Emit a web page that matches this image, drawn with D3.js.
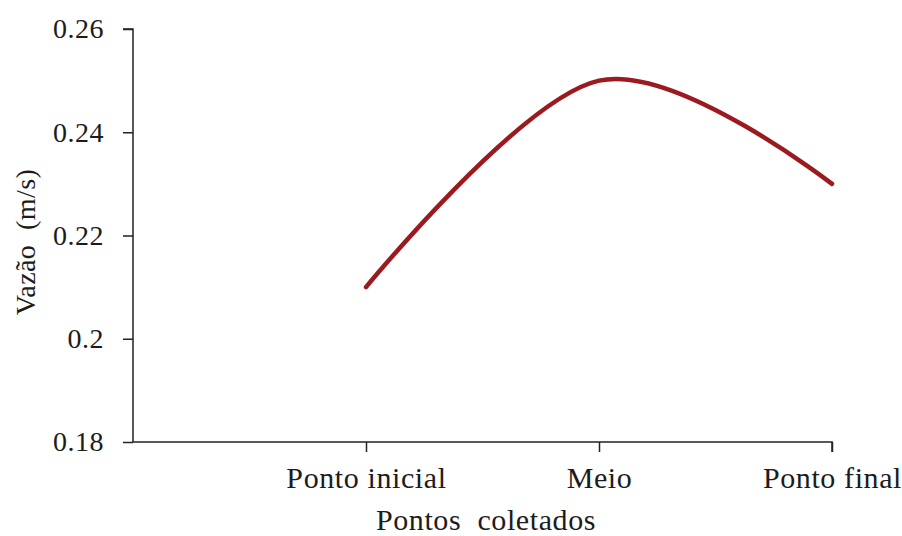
<!DOCTYPE html>
<html><head><meta charset="utf-8">
<script src="https://cdn.jsdelivr.net/npm/d3@7"></script>
<style>body{margin:0;background:#fff}svg{display:block}</style>
</head><body><svg id="c" width="902" height="536"></svg>
<script>
const categories = ["Ponto inicial", "Meio", "Ponto final"];
const values = [0.21, 0.25, 0.23];
const yTicks = [0.18, 0.2, 0.22, 0.24, 0.26];
const yTickLabels = ["0.18", "0.2", "0.22", "0.24", "0.26"];
const xTitle = "Pontos  coletados";
const yTitle = "Vazão  (m/s)";

const FONT = "'Liberation Serif','Times New Roman',serif";
const INK = "#1c1c1c";
const svg = d3.select("#c");
const x0 = 133, x1 = 832, yTop = 29, yBot = 442;
const xPos = d3.scalePoint().domain(["", ...categories]).range([x0, x1]);
const y = d3.scaleLinear().domain([0.18, 0.26]).range([yBot, yTop]);

const yAxis = d3.axisLeft(y).tickValues(yTicks).tickFormat((d,i)=>yTickLabels[i]).tickSize(10).tickPadding(19);
const gy = svg.append("g").attr("transform", `translate(${x0},0)`).call(yAxis);
gy.attr("font-family", null).attr("font-size", null);
gy.select(".domain").attr("stroke","#222").attr("stroke-width",1.5).attr("d",`M-10,${yTop}H0V${yBot}`);
gy.selectAll(".tick line").attr("stroke","#222").attr("stroke-width",1.5);
gy.selectAll(".tick text").style("font-family",FONT).style("font-size","28px").style("letter-spacing","0.5px").attr("fill",INK);

const xAxis = d3.axisBottom(xPos).tickValues(categories).tickSize(10);
const gx = svg.append("g").attr("transform", `translate(0,${yBot})`).call(xAxis);
gx.attr("font-family", null).attr("font-size", null);
gx.select(".domain").attr("stroke","#222").attr("stroke-width",1.5).attr("d",`M${x0},0H${x1}V10`);
gx.selectAll(".tick line").attr("stroke","#222").attr("stroke-width",1.5);
gx.selectAll(".tick text").style("font-family",FONT).style("font-size","30px").style("letter-spacing","0.6px")
  .attr("fill",INK).attr("y",46).attr("dy",null);

const line = d3.line().x((d,i)=>xPos(categories[i])).y(d=>y(d)).curve(d3.curveCatmullRom.alpha(0));
svg.append("path").datum(values).attr("d",line).attr("fill","none").attr("stroke","#9B1A1F").attr("stroke-width",4.5).attr("stroke-linecap","round");

svg.append("text").attr("x",486).attr("y",530).attr("text-anchor","middle")
  .style("font-family",FONT).style("font-size","30px").style("letter-spacing","0.6px").style("white-space","pre").attr("fill",INK).text(xTitle);
svg.append("text").attr("transform","translate(35,242) rotate(-90)").attr("text-anchor","middle")
  .style("font-family",FONT).style("font-size","28px").style("letter-spacing","0.4px").style("white-space","pre").attr("fill",INK).text(yTitle);
</script></body></html>
